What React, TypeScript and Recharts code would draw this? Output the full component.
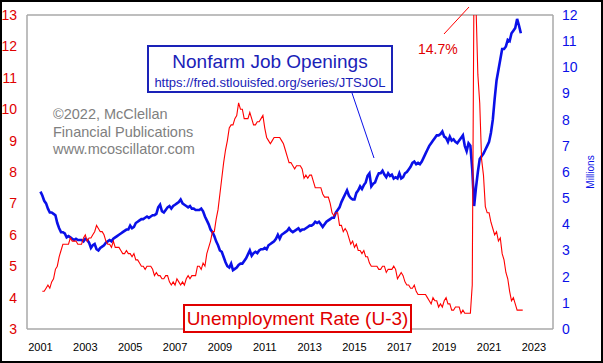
import React from "react";
import { ComposedChart, Line, XAxis, YAxis, ReferenceLine } from "recharts";

// Monthly data; dates are plotted as year + month/12
const unemploymentStart = { year: 2001, month: 1 };
const unemploymentRate = [
  4.2, 4.2, 4.3, 4.4, 4.3, 4.5, 4.6, 4.9, 5.0, 5.3, 5.5, 5.7, // 2001
  5.7, 5.7, 5.7, 5.9, 5.8, 5.8, 5.8, 5.7, 5.7, 5.7, 5.9, 6.0, // 2002
  5.8, 5.9, 5.9, 6.0, 6.1, 6.3, 6.2, 6.1, 6.1, 6.0, 5.8, 5.7, // 2003
  5.7, 5.6, 5.8, 5.6, 5.6, 5.6, 5.5, 5.4, 5.4, 5.5, 5.4, 5.4, // 2004
  5.3, 5.4, 5.2, 5.2, 5.1, 5.0, 5.0, 4.9, 5.0, 5.0, 5.0, 4.9, // 2005
  4.7, 4.8, 4.7, 4.7, 4.6, 4.6, 4.7, 4.7, 4.5, 4.4, 4.5, 4.4, // 2006
  4.6, 4.5, 4.4, 4.5, 4.4, 4.6, 4.7, 4.6, 4.7, 4.7, 4.7, 5.0, // 2007
  5.0, 4.9, 5.1, 5.0, 5.4, 5.6, 5.8, 6.1, 6.1, 6.5, 6.8, 7.3, // 2008
  7.8, 8.3, 8.7, 9.0, 9.4, 9.5, 9.5, 9.7, 9.8, 10.2, 10.0, 10.0, // 2009
  9.7, 9.7, 9.7, 9.9, 9.7, 9.5, 9.5, 9.6, 9.6, 9.7, 9.8, 9.4, // 2010
  9.1, 9.0, 8.9, 9.0, 9.1, 9.1, 9.1, 9.1, 9.0, 8.9, 8.7, 8.5, // 2011
  8.3, 8.3, 8.2, 8.1, 8.2, 8.2, 8.2, 8.1, 7.8, 7.9, 7.8, 7.9, // 2012
  7.9, 7.7, 7.5, 7.5, 7.5, 7.5, 7.3, 7.2, 7.2, 7.2, 7.0, 6.7, // 2013
  6.6, 6.7, 6.7, 6.3, 6.3, 6.1, 6.2, 6.1, 5.9, 5.7, 5.8, 5.6, // 2014
  5.7, 5.5, 5.5, 5.4, 5.5, 5.3, 5.3, 5.1, 5.0, 5.0, 5.0, 5.0, // 2015
  4.9, 4.9, 5.0, 5.0, 4.8, 4.9, 4.9, 4.9, 5.0, 4.9, 4.6, 4.7, // 2016
  4.8, 4.7, 4.5, 4.4, 4.4, 4.3, 4.3, 4.4, 4.2, 4.1, 4.1, 4.1, // 2017
  4.1, 4.1, 4.0, 3.9, 3.8, 4.0, 3.9, 3.9, 3.7, 3.8, 3.7, 3.9, // 2018
  4.0, 3.8, 3.8, 3.6, 3.6, 3.7, 3.7, 3.7, 3.5, 3.6, 3.5, 3.5, // 2019
  3.5, 3.5, 4.4, 14.7, 13.3, 11.1, 10.2, 8.4, 7.9, 6.9, 6.7, 6.7, // 2020
  6.4, 6.2, 6.0, 6.1, 5.8, 5.9, 5.4, 5.2, 4.8, 4.6, 4.2, 3.9, // 2021
  4.0, 3.8, 3.6, 3.6, 3.6, 3.6, // 2022
];

const openingsStart = { year: 2000, month: 12 };
const jobOpenings = [
  5.25, // Dec 2000
  5.1, 4.9, 4.8, 4.6, 4.45, 4.45, 4.4, 4.35, 4.05, 3.85, 3.7, 3.7, // 2001
  3.65, 3.5, 3.55, 3.5, 3.45, 3.4, 3.45, 3.4, 3.4, 3.4, 3.35, 3.45, // 2002
  3.4, 3.3, 3.1, 3.2, 3.25, 3.05, 3.0, 3.1, 3.15, 3.2, 3.3, 3.35, // 2003
  3.4, 3.35, 3.45, 3.5, 3.55, 3.6, 3.65, 3.7, 3.75, 3.8, 3.8, 3.95, // 2004
  3.85, 3.9, 4.05, 4.1, 4.15, 4.2, 4.2, 4.25, 4.3, 4.25, 4.3, 4.35, // 2005
  4.35, 4.4, 4.65, 4.75, 4.5, 4.45, 4.55, 4.65, 4.7, 4.6, 4.7, 4.75, // 2006
  4.8, 4.85, 4.95, 4.8, 4.75, 4.7, 4.65, 4.7, 4.6, 4.6, 4.55, 4.55, // 2007
  4.55, 4.6, 4.5, 4.3, 4.15, 4.0, 3.8, 3.7, 3.55, 3.35, 3.2, 3.0, // 2008
  2.95, 2.75, 2.55, 2.4, 2.35, 2.5, 2.25, 2.3, 2.35, 2.45, 2.5, 2.5, // 2009
  2.6, 2.7, 2.85, 3.0, 2.8, 2.9, 2.95, 2.9, 3.0, 3.05, 3.05, 3.1, // 2010
  3.05, 3.2, 3.25, 3.3, 3.35, 3.45, 3.6, 3.45, 3.6, 3.65, 3.7, 3.75, // 2011
  3.85, 3.75, 3.7, 3.75, 3.8, 3.85, 3.75, 3.8, 3.8, 3.85, 3.9, 3.95, // 2012
  3.95, 4.0, 4.1, 4.05, 4.1, 4.0, 3.9, 4.0, 4.1, 4.15, 4.2, 4.25, // 2013
  4.25, 4.45, 4.55, 4.65, 4.85, 5.0, 5.15, 5.3, 5.1, 5.0, 4.95, 4.95, // 2014
  5.2, 5.3, 5.45, 5.35, 5.5, 5.6, 5.85, 5.95, 5.45, 5.55, 5.6, 5.8, // 2015
  5.95, 5.95, 6.05, 5.9, 5.8, 5.95, 5.85, 5.9, 5.75, 5.8, 5.75, 5.95, // 2016
  5.75, 5.8, 5.95, 6.0, 6.1, 6.2, 6.35, 6.4, 6.3, 6.35, 6.3, 6.4, // 2017
  6.55, 6.7, 6.85, 7.0, 7.1, 7.2, 7.3, 7.4, 7.4, 7.45, 7.55, 7.35, // 2018
  7.3, 7.15, 7.35, 7.2, 7.25, 7.15, 7.1, 7.2, 7.3, 7.4, 7.0, 6.8, // 2019
  7.1, 7.0, 6.1, 4.7, 5.4, 6.0, 6.5, 6.6, 6.7, 6.85, 7.0, 7.15, // 2020
  7.5, 8.0, 8.8, 9.5, 9.9, 10.3, 10.7, 10.7, 10.8, 11.05, 11.0, 11.3, // 2021
  11.4, 11.5, 11.85, 11.6, 11.3, // 2022
];

const yearTicks = [2001, 2003, 2005, 2007, 2009, 2011, 2013, 2015, 2017, 2019, 2021, 2023];
const rateTicks = [3, 4, 5, 6, 7, 8, 9, 10, 11, 12, 13];
const millionTicks = [0, 1, 2, 3, 4, 5, 6, 7, 8, 9, 10, 11, 12];

const toDate = (start: { year: number; month: number }, i: number) =>
  Math.round((start.year + (start.month + i) / 12) * 1e6) / 1e6;

const rowMap = new Map<number, any>();
const row = (d: number) => {
  if (!rowMap.has(d)) rowMap.set(d, { date: d });
  return rowMap.get(d);
};
jobOpenings.forEach((v, i) => (row(toDate(openingsStart, i)).openings = v));
unemploymentRate.forEach((v, i) => (row(toDate(unemploymentStart, i)).rate = v));
const data = Array.from(rowMap.values()).sort((a, b) => a.date - b.date);

const FONT = '"Liberation Sans", Arial, sans-serif';
const GRAY = "#a8a8a8";
const RED = "#e00000";
const BLUE = "#0a10e8";

export default function App() {
  return (
    <div style={{ position: "absolute", left: 0, top: 0, width: 603, height: 363, background: "#fff", fontFamily: FONT, overflow: "hidden" }}>
      <ComposedChart width={603} height={363} data={data} margin={{ top: 15, right: 0, bottom: 0, left: 0 }}>
        <XAxis
          dataKey="date"
          type="number"
          domain={[2000.4, 2023.85]}
          allowDataOverflow
          ticks={yearTicks}
          tickLine={false}
          axisLine={{ stroke: GRAY, strokeWidth: 1.5 }}
          height={34}
          tickMargin={8}
          tick={{ fill: "#000", fontSize: 11, fontFamily: FONT }}
          interval={0}
        />
        <YAxis
          yAxisId="left"
          orientation="left"
          domain={[3, 13]}
          allowDataOverflow
          ticks={rateTicks}
          width={27}
          tickLine={false}
          tickMargin={4}
          axisLine={{ stroke: GRAY, strokeWidth: 1.5 }}
          tick={{ fill: RED, fontSize: 14, fontFamily: FONT }}
          interval={0}
        />
        <YAxis
          yAxisId="right"
          orientation="right"
          domain={[0, 12]}
          allowDataOverflow
          ticks={millionTicks}
          width={50}
          tickLine={false}
          tickMargin={3}
          axisLine={{ stroke: GRAY, strokeWidth: 1.5 }}
          tick={{ fill: BLUE, fontSize: 14, fontFamily: FONT }}
          interval={0}
        />
        <ReferenceLine yAxisId="left" y={13} stroke={GRAY} strokeWidth={1.5} />
        <Line
          yAxisId="right"
          dataKey="openings"
          stroke={BLUE}
          strokeWidth={2.6}
          dot={false}
          isAnimationActive={false}
          type="linear"
        />
        <Line
          yAxisId="left"
          dataKey="rate"
          stroke="#ff0000"
          strokeWidth={1.1}
          dot={false}
          isAnimationActive={false}
          type="linear"
        />
      </ComposedChart>

      {/* annotation pointers */}
      <svg width={603} height={363} style={{ position: "absolute", left: 0, top: 0, pointerEvents: "none" }}>
        <line x1={352} y1={93} x2={374} y2={158} stroke={BLUE} strokeWidth={1} />
        <line x1={444} y1={34} x2={469} y2={7} stroke="#ff0000" strokeWidth={1} />
      </svg>

      {/* Title box */}
      <div style={{ position: "absolute", left: 147, top: 45, width: 246, height: 48, boxSizing: "border-box", border: "2px solid #1a22b8", background: "#fff", textAlign: "center", color: "#1a22b8" }}>
        <div style={{ position: "absolute", left: 0, right: 0, top: 4, fontSize: 19, lineHeight: "22px", whiteSpace: "nowrap" }}>Nonfarm Job Openings</div>
        <div style={{ position: "absolute", left: 0, right: 0, top: 28, fontSize: 13, lineHeight: "15px", whiteSpace: "nowrap" }}>https://fred.stlouisfed.org/series/JTSJOL</div>
      </div>

      {/* copyright */}
      <div style={{ position: "absolute", left: 53, top: 106, color: "#808080", fontSize: 14.5, lineHeight: "17.5px", whiteSpace: "nowrap" }}>
        <div>©2022, McClellan</div>
        <div>Financial Publications</div>
        <div>www.mcoscillator.com</div>
      </div>

      {/* 14.7% */}
      <div style={{ position: "absolute", left: 418, top: 40, color: RED, fontSize: 14, lineHeight: "18px", whiteSpace: "nowrap" }}>14.7%</div>

      {/* Unemployment box */}
      <div style={{ position: "absolute", left: 183, top: 304, width: 229, height: 29, boxSizing: "border-box", border: "2px solid " + RED, background: "#fff", color: RED, textAlign: "center", fontSize: 19, lineHeight: "25px", whiteSpace: "nowrap" }}>
        Unemployment Rate (U-3)
      </div>

      {/* Millions */}
      <div style={{ position: "absolute", left: 590, top: 172, transform: "translate(-50%, -50%) rotate(-90deg)", color: BLUE, fontSize: 10, whiteSpace: "nowrap" }}>Millions</div>

      {/* outer frame */}
      <div style={{ position: "absolute", left: 0, top: 0, width: 603, height: 363, boxSizing: "border-box", border: "2px solid #000", pointerEvents: "none" }} />
    </div>
  );
}
